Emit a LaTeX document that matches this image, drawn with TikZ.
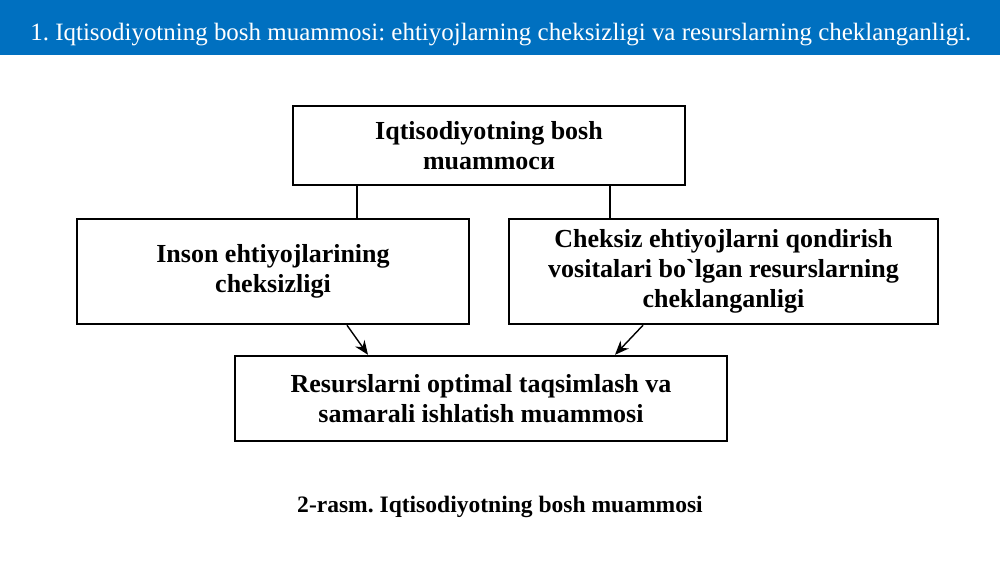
\documentclass[tikz,border=0pt]{standalone}
\usepackage{fontspec}
\setmainfont{Liberation Serif}
\usetikzlibrary{arrows.meta}
\definecolor{headblue}{RGB}{0,112,192}
\frenchspacing
\tikzset{
  box/.style={draw=black, line width=1.4pt, align=center, inner sep=0pt,
    font=\fontsize{14.8}{17}\selectfont\bfseries},
  link/.style={line width=0.8pt},
  arrow/.style={line width=0.8pt, -{Stealth[length=8pt,width=6.5pt]}}
}
\begin{document}
\begin{tikzpicture}[x=0.02cm, y=-0.02cm]
	%%%%% START %%%%%
	
	\useasboundingbox (0, 0) rectangle (1000, 562);
	
	\fill[headblue] (0, 0) rectangle (1000, 55);
	\node[anchor=base west, inner sep=0pt, text=white, font=\fontsize{14.2}{17}\selectfont] (title) at (30, 40)
		{1. Iqtisodiyotning bosh muammosi: ehtiyojlarning cheksizligi va resurslarning cheklanganligi.};
	
	\node[box, minimum width=392*0.02cm, minimum height=79*0.02cm] (bosh) at (489, 145.5)
		{Iqtisodiyotning bosh\\muammoси};
	\node[box, minimum width=392*0.02cm, minimum height=105*0.02cm] (inson) at (273, 271.5)
		{Inson ehtiyojlarining\\cheksizligi};
	\node[box, minimum width=429*0.02cm, minimum height=105*0.02cm] (cheksiz) at (723.5, 271.5)
		{Cheksiz ehtiyojlarni qondirish\\vositalari bo\textasciigrave lgan resurslarning\\cheklanganligi};
	\node[box, minimum width=492*0.02cm, minimum height=85*0.02cm] (resurs) at (481, 398.5)
		{Resurslarni optimal taqsimlash va\\samarali ishlatish muammosi};
	
	\draw[link] (bosh.south -| 357,0) -- (inson.north -| 357,0);
	\draw[link] (bosh.south -| 610,0) -- (cheksiz.north -| 610,0);
	
	\draw[arrow] (inson.south -| 347,0) -- (resurs.north -| 368,0);
	\draw[arrow] (cheksiz.south -| 643,0) -- (resurs.north -| 615,0);
	
	\node[anchor=base, inner sep=0pt, font=\fontsize{13.4}{16}\selectfont\bfseries] (caption) at (500, 512)
		{2-rasm. Iqtisodiyotning bosh muammosi};
	
	%%%%% END %%%%%
\end{tikzpicture}
\end{document}
